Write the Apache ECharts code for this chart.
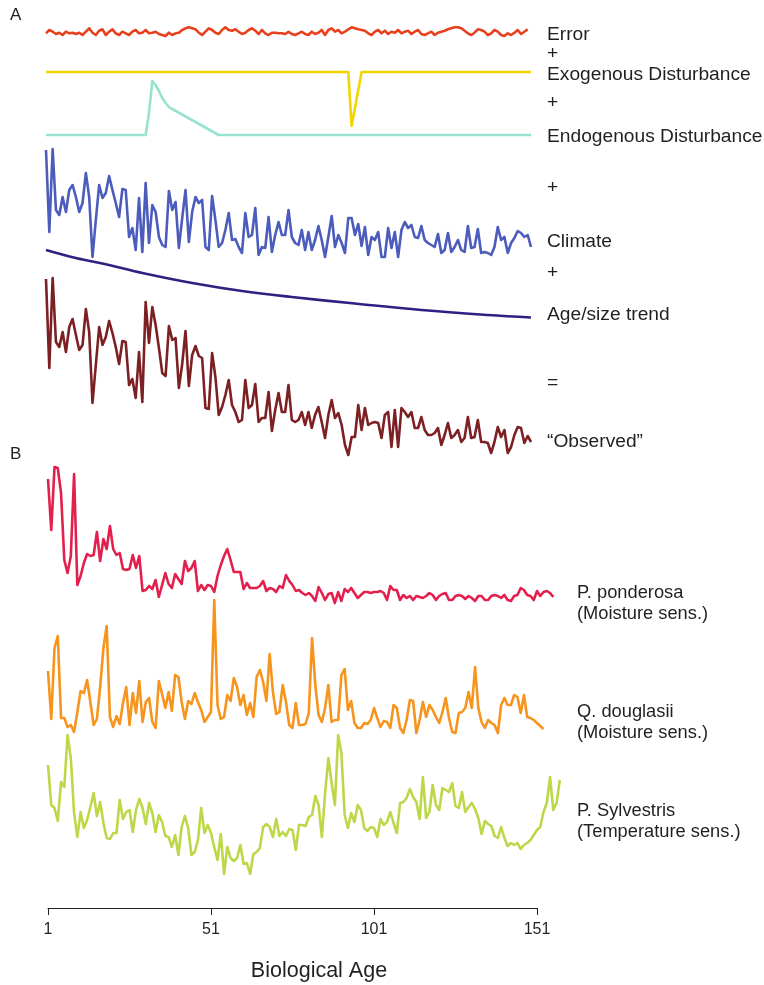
<!DOCTYPE html>
<html>
<head>
<meta charset="utf-8">
<script src="https://cdn.jsdelivr.net/npm/echarts/dist/echarts.min.js"></script>
<style>
  html, body { margin: 0; padding: 0; background: #ffffff; }
  #chart { width: 764px; height: 985px; }
</style>
</head>
<body>
<div id="chart"></div>
<script>
// ---- Panel A: components of a simulated ring-width series (arbitrary units) ----
const errorSeries = [
  11.7,15,13.3,11,12.3,10,13.3,11.7,12.3,11,
  12.3,10,13.3,16.7,12.3,10,14.3,15.7,10,13.3,
  15.7,11.7,10,13.3,11.7,10,13.3,15,11.7,12.3,
  15,11.7,12.3,13.3,11,10,9,12.3,10,11.7,
  12.3,15,16.7,17.7,16.7,15.7,12.3,10,13.3,16.7,
  15,12.3,11,15,17.7,15,14.3,15.7,13.3,11,
  12.3,15,16.7,14.3,11,15,11.7,10,12.3,12.3,
  11.7,11.7,11,13.3,11,10,11.7,13.3,11,10,
  13.3,11,12.3,15,10,15,16.7,13.3,15,11.7,
  13.3,15.7,17.7,16.7,15.7,15,14.3,11.7,10,13.3,
  15,11.7,14.3,11,13.3,12.3,15,11.7,13.3,14.3,
  11,13.3,15,11,10,11.7,13.3,10,12.3,13.3,
  14.3,15.7,16.7,17.7,17.7,16.7,14.3,11.7,10,12.3,
  15.7,15,13.3,10,11.7,15,13.3,10,9,11.7,
  10,12.3,15,11,13.3,15.7
];

// [year, value] break points of the pulse disturbances
const exogenousPoints = [[1,0],[92,0],[93,-54],[96,0],[147,0]];
const endogenousPoints = [[1,0],[31,0],[32,22],[33,54],[34,50],[35,44],[36,37],[37,32],[38,28],[39,26],[53,0],[147,0]];

const climateSeries = [
  115,33,116,55,50,68,53,75,80,68,
  53,62,92,68,8,45,80,67,72,89,
  75,62,48,76,75,28,37,15,67,13,
  82,22,60,53,28,20,18,74,55,63,
  17,47,75,23,53,68,62,65,18,15,
  69,45,18,22,35,52,25,26,18,12,
  52,28,30,57,10,18,17,48,13,30,
  43,30,30,55,
  28,22,20,35,15,33,15,25,39,25,
  8,28,49,18,30,22,12,47,47,30,
  41,19,38,10,28,25,33,8,8,37,
  17,33,8,35,43,37,40,28,27,39,
  25,22,20,18,31,12,15,32,13,18,
  25,15,13,39,17,18,36,12,13,12,
  10,18,38,25,28,12,22,27,34,32,
  28,30,18
];

const trendYears  = [1, 10, 20, 30, 45, 60, 75, 94, 114, 134, 147];
const trendValues = [70, 62, 55, 47, 37, 29, 23, 16.5, 10, 5, 2.5];

const observedSeries = [
  181,92,182,118,113,128,108,133,141,125,
  110,115,151,128,57,95,133,115,123,139,
  127,113,96,119,118,75,81,62,108,58,
  158,117,153,135,112,87,84,134,120,122,
  72,96,129,74,105,114,104,102,52,51,
  107,83,45,53,65,80,55,48,38,40,
  80,52,55,76,38,42,42,68,29,50,
  67,48,48,75,
  40,38,40,48,35,48,32,45,53,38,
  22,45,60,42,47,35,15,5,23,23,
  55,30,52,35,37,38,37,22,45,48,
  13,50,13,52,48,43,48,32,32,43,
  30,25,25,27,32,15,25,37,22,25,
  30,18,22,43,22,23,40,18,18,17,
  7,18,33,23,30,7,13,25,33,32,
  17,24,18
];

// ---- Panel B: ring-width indices by biological age ----
const ponderosaSeries = [
  129,78,141,140,115,48,35,52,134,23,
  32,45,54,52,53,76,47,69,59,82,
  59,53,55,39,38,39,53,40,52,17,
  18,22,19,28,11,23,35,24,20,34,
  29,24,47,37,40,47,17,23,18,23,
  22,16,32,43,52,59,48,36,36,36,
  19,25,20,20,20,22,27,17,20,19,
  16,22,20,33,27,23,17,
  18,15,13,15,12,7,21,15,8,14,
  15,5,16,7,19,16,20,15,10,13,
  16,16,15,16,16,17,15,8,22,18,
  18,8,13,10,12,8,12,11,10,12,
  15,13,8,12,14,15,8,8,12,13,
  12,9,12,10,7,12,12,8,8,12,
  13,12,10,13,8,7,12,13,20,18,
  13,12,8,17,12,16,17,15,11
];

const douglasiiSeries = [
  64,16,87,99,17,17,8,10,3,23,
  44,42,55,33,10,16,48,87,109,18,
  8,19,11,32,48,10,42,22,54,13,
  33,37,13,7,54,41,27,43,24,60,
  58,33,16,34,31,42,33,25,13,18,
  23,135,30,16,18,40,34,57,48,30,
  40,20,32,18,58,65,53,34,81,43,
  21,23,50,33,10,7,32,10,10,11,
  22,97,50,20,13,27,50,13,15,15,
  60,66,25,34,12,7,7,12,11,15,
  27,17,8,14,13,7,30,27,7,2,
  15,35,34,2,15,33,18,30,25,18,
  12,23,37,17,3,2,22,23,27,43,
  27,68,27,13,7,15,12,10,2,30,
  37,30,30,40,38,22,40,18,17,15,
  12,9,6
];

const sylvestrisSeries = [
  115,75,72,59,98,93,145,122,67,43,
  68,52,60,73,87,64,78,57,42,41,
  47,47,80,61,68,70,48,70,81,72,
  56,77,67,48,65,58,44,43,33,45,
  25,53,64,52,25,28,40,72,47,55,
  47,33,20,46,6,33,22,19,22,35,
  16,17,6,26,28,32,53,56,53,43,
  61,44,48,44,51,50,30,55,55,54,
  63,65,84,75,43,87,122,97,75,145,
  127,65,52,67,58,75,70,52,49,53,
  52,43,61,55,58,68,57,47,77,78,
  82,91,83,78,61,103,62,68,95,75,
  70,92,90,88,97,74,72,88,68,73,
  77,71,62,46,59,56,54,44,42,53,
  42,34,37,35,37,31,35,37,40,45,
  50,53,68,77,103,70,77,100
];

const ageTicks = [1, 51, 101, 151];
const axisTitle = 'Biological Age';

// ---- layout ----
const FONT = '"Liberation Sans", Arial, Helvetica, sans-serif';
const TEXT = '#231f20';
const withYears = arr => arr.map((v, i) => [i + 1, v]);

// Each band: its own grid (pixel box) and y range; panel A and B have their own x scales.
const panelA = { left: 46, right: 233, xMax: 147 };
const panelB = { left: 48, right: 194.4, xMax: 161 };

const bands = [
  { name: 'Error',        panel: panelA, top: 20,  height: 25,  yMin: 0,   yMax: 25,  color: '#e8401c', data: withYears(errorSeries) },
  { name: 'Exogenous',    panel: panelA, top: 72,  height: 60,  yMin: -60, yMax: 0,   color: '#f3d400', data: exogenousPoints },
  { name: 'Endogenous',   panel: panelA, top: 75,  height: 60,  yMin: 0,   yMax: 60,  color: '#98e2d0', data: endogenousPoints },
  { name: 'Climate',      panel: panelA, top: 140, height: 125, yMin: 0,   yMax: 125, color: '#4b5cbd', data: withYears(climateSeries) },
  { name: 'Trend',        panel: panelA, top: 245, height: 75,  yMin: 0,   yMax: 75,  color: '#2f2181', data: trendYears.map((y, i) => [y, trendValues[i]]), smooth: true },
  { name: 'Observed',     panel: panelA, top: 265, height: 195, yMin: 0,   yMax: 195, color: '#7c2024', data: withYears(observedSeries) },
  { name: 'P. ponderosa', panel: panelB, top: 460, height: 148, yMin: 0,   yMax: 148, color: '#e3204d', data: withYears(ponderosaSeries) },
  { name: 'Q. douglasii', panel: panelB, top: 595, height: 140, yMin: 0,   yMax: 140, color: '#f7941d', data: withYears(douglasiiSeries) },
  { name: 'P. sylvestris',panel: panelB, top: 730, height: 150, yMin: 0,   yMax: 150, color: '#bcd849', data: withYears(sylvestrisSeries) }
];

const grid = [], xAxis = [], yAxis = [], series = [];
bands.forEach((b, i) => {
  grid.push({ left: b.panel.left, right: b.panel.right, top: b.top, height: b.height });
  xAxis.push({ type: 'value', gridIndex: i, min: 1, max: b.panel.xMax, show: false });
  yAxis.push({ type: 'value', gridIndex: i, min: b.yMin, max: b.yMax, show: false });
  series.push({
    name: b.name, type: 'line', xAxisIndex: i, yAxisIndex: i,
    data: b.data, showSymbol: false, clip: false, smooth: b.smooth ? 0.4 : false,
    lineStyle: { color: b.color, width: 2.6, join: 'round' }, z: 2
  });
});

// Visible age axis under panel B
const ai = bands.length;
grid.push({ left: 48, right: 227, top: 880, height: 28 });
xAxis.push({
  type: 'value', gridIndex: ai, min: ageTicks[0], max: ageTicks[ageTicks.length - 1],
  interval: ageTicks[1] - ageTicks[0],
  axisLine: { show: true, lineStyle: { color: '#231f20', width: 1 } },
  axisTick: { show: true, length: 7, lineStyle: { color: '#231f20', width: 1 } },
  axisLabel: { color: TEXT, fontFamily: FONT, fontSize: 16, margin: 14 },
  splitLine: { show: false }
});
yAxis.push({ type: 'value', gridIndex: ai, show: false, min: 0, max: 1 });
series.push({ type: 'line', xAxisIndex: ai, yAxisIndex: ai, data: [], silent: true });

// captions, anchored at their vertical centre
const label = (text, x, y, size, align) => ({
  type: 'text', x, y,
  style: { text, fill: TEXT, font: `${size || 18.5}px ${FONT}`, verticalAlign: 'middle', align: align || 'left' }
});

const A = 19.2, B = 18.3;
const graphic = [
  label('A', 10, 15, 17),
  label('B', 10, 454, 17),
  label('Error', 547, 35, A),
  label('+', 547, 54, A),
  label('Exogenous Disturbance', 547, 75, A),
  label('+', 547, 103, A),
  label('Endogenous Disturbance', 547, 137, A),
  label('+', 547, 188, A),
  label('Climate', 547, 242, A),
  label('+', 547, 273, A),
  label('Age/size trend', 547, 315, A),
  label('=', 547, 383, A),
  label('\u201CObserved\u201D', 547, 442, A),
  label('P. ponderosa', 577, 593, B),
  label('(Moisture sens.)', 577, 614, B),
  label('Q. douglasii', 577, 712, B),
  label('(Moisture sens.)', 577, 733, B),
  label('P. Sylvestris', 577, 811, B),
  label('(Temperature sens.)', 577, 832, B),
  label(axisTitle, 319, 971, 21.5, 'center')
];

const chart = echarts.init(document.getElementById('chart'), null, { renderer: 'canvas' });
chart.setOption({
  backgroundColor: '#ffffff',
  animation: false,
  grid, xAxis, yAxis, series, graphic
});
</script>
</body>
</html>
